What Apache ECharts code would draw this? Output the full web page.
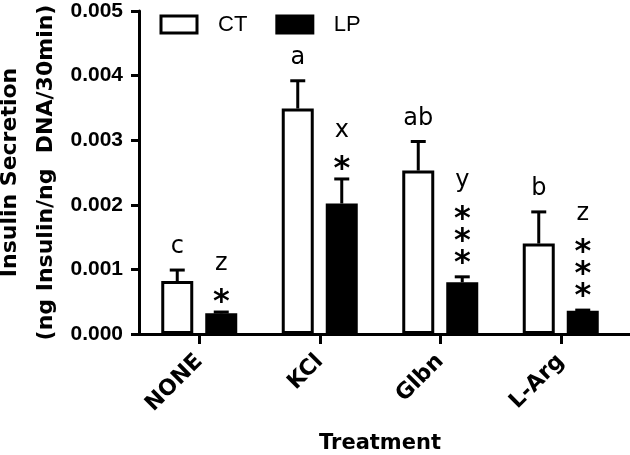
<!DOCTYPE html>
<html><head><meta charset="utf-8">
<script src="https://cdn.jsdelivr.net/npm/echarts@6/dist/echarts.min.js"></script>
<style>html,body{margin:0;padding:0;background:#fff}#c{width:630px;height:455px}</style>
</head><body><div id="c"></div>
<script>
// ---- data ----
const categories = ['NONE', 'KCl', 'Glbn', 'L-Arg'];
const ctMean = [0.00082, 0.00349, 0.00253, 0.00140];
const ctSem  = [0.00017, 0.00043, 0.00045, 0.00049];
const lpMean = [0.00032, 0.00202, 0.00080, 0.00036];
const lpSem  = [0.00002, 0.00038, 0.000085, 0.00001];
const ctLetters = ['c', 'a', 'ab', 'b'];
const lpLetters = ['z', 'x', 'y', 'z'];
const lpStars = [1, 1, 3, 3];
const yTicks = ['0.000', '0.001', '0.002', '0.003', '0.004', '0.005'];

// ---- style constants ----
const BAR_W = 32, BAR_GAP = 12;
const OFF = (BAR_W + BAR_GAP) / 2;
const LETTER_FONT = '24px "DejaVu Sans"';
const STAR_FONT = 'bold 32px "DejaVu Sans"';

function errRender(sign, letters, stars) {
  return function (params, api) {
    const i = api.value(0), m = api.value(1), s = api.value(2);
    const base = api.coord([i, m]);
    const top = api.coord([i, m + s]);
    const x = base[0] + sign * OFF;
    const ty = top[1];
    const ch = [
      { type: 'line', shape: { x1: x, y1: base[1], x2: x, y2: ty }, style: { stroke: '#000', lineWidth: 3 } },
      { type: 'line', shape: { x1: x - 7.5, y1: ty, x2: x + 7.5, y2: ty }, style: { stroke: '#000', lineWidth: 3 } }
    ];
    const idx = params.dataIndex;
    if (stars) {
      const n = stars[idx];
      const first = ty - (n === 1 ? 14 : 18.6);
      let yy = first;
      for (let k = 0; k < n; k++) {
        yy = first - k * 21.7;
        ch.push({ type: 'text', style: { text: '*', x: x, y: yy + 5, font: STAR_FONT, align: 'center', verticalAlign: 'middle', fill: '#000' } });
      }
      ch.push({ type: 'text', style: { text: letters[idx], x: x, y: yy - 35 + 1, font: LETTER_FONT, align: 'center', verticalAlign: 'middle', fill: '#000' } });
    } else {
      ch.push({ type: 'text', style: { text: letters[idx], x: x, y: ty - 22 - 1, font: LETTER_FONT, align: 'center', verticalAlign: 'middle', fill: '#000' } });
    }
    return { type: 'group', children: ch };
  };
}

const chart = echarts.init(document.getElementById('c'), null, { renderer: 'canvas' });
chart.setOption({
  animation: false,
  backgroundColor: '#fff',
  legend: {
    left: 159.5, top: 13.5, padding: 0,
    itemWidth: 36, itemHeight: 17, itemGap: 28,
    textStyle: { fontFamily: 'Liberation Sans', fontSize: 22, color: '#000', padding: [0, 0, 0, 16] },
    data: [
      { name: 'CT', icon: 'rect', itemStyle: { color: '#fff', borderColor: '#000', borderWidth: 3 } },
      { name: 'LP', icon: 'rect', itemStyle: { color: '#000', borderColor: '#000', borderWidth: 3 } }
    ]
  },
  grid: [
    { left: 139, right: 9, top: 11, bottom: 121, containLabel: false, outerBoundsMode: 'none' },
    { left: 139, right: 0, top: 11, bottom: 121, containLabel: false, outerBoundsMode: 'none' }
  ],
  xAxis: [
    {
      type: 'category', gridIndex: 0, data: categories,
      axisLine: { show: false },
      axisTick: { show: true, alignWithLabel: true, length: 10, lineStyle: { color: '#000', width: 3 } },
      axisLabel: { rotate: 45, margin: 24, color: '#000', fontFamily: 'DejaVu Sans', fontWeight: 'bold', fontSize: 22 },
      name: 'Treatment', nameLocation: 'middle', nameGap: 99, nameMoveOverlap: false,
      nameTextStyle: { color: '#000', fontFamily: 'DejaVu Sans', fontWeight: 'bold', fontSize: 21 }
    },
    {
      type: 'value', gridIndex: 1, min: 0, max: 1,
      axisLine: { show: true, onZero: false, lineStyle: { color: '#000', width: 3 } },
      axisTick: { show: false }, axisLabel: { show: false }, splitLine: { show: false }
    }
  ],
  yAxis: [
    {
      type: 'value', gridIndex: 0, min: 0, max: 0.005, interval: 0.001,
      axisLine: { show: true, lineStyle: { color: '#000', width: 3 } },
      axisTick: { show: true, length: 8, lineStyle: { color: '#000', width: 3 } },
      splitLine: { show: false },
      axisLabel: {
        margin: 16, color: '#000', fontFamily: 'Liberation Sans', fontWeight: 'bold', fontSize: 21,
        formatter: function (v, i) { return yTicks[i]; }
      },
      name: 'Insulin Secretion\n(ng Insulin/ng  DNA/30min)', nameLocation: 'middle', nameGap: 75, nameRotate: 90,
      nameMoveOverlap: false,
      nameTextStyle: { color: '#000', fontFamily: 'DejaVu Sans', fontWeight: 'bold', fontSize: 22, lineHeight: 36 }
    },
    { type: 'value', gridIndex: 1, min: 0, max: 1, show: false }
  ],
  series: [
    {
      name: 'CT', type: 'bar', xAxisIndex: 0, yAxisIndex: 0, data: ctMean,
      barWidth: BAR_W, barGap: (BAR_GAP / BAR_W * 100) + '%',
      itemStyle: { color: '#fff', borderColor: '#000', borderWidth: 3 }
    },
    {
      name: 'LP', type: 'bar', xAxisIndex: 0, yAxisIndex: 0, data: lpMean,
      barWidth: BAR_W,
      itemStyle: { color: '#000', borderColor: '#000', borderWidth: 3 }
    },
    {
      name: 'CT err', type: 'custom', xAxisIndex: 0, yAxisIndex: 0, z: 5,
      data: ctMean.map((m, i) => [i, m, ctSem[i]]),
      renderItem: errRender(-1, ctLetters, null)
    },
    {
      name: 'LP err', type: 'custom', xAxisIndex: 0, yAxisIndex: 0, z: 5,
      data: lpMean.map((m, i) => [i, m, lpSem[i]]),
      renderItem: errRender(1, lpLetters, lpStars)
    }
  ]
});
</script>
</body></html>
